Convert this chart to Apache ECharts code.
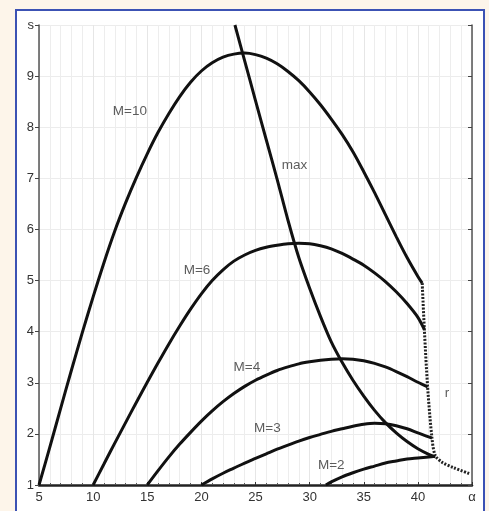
<!DOCTYPE html>
<html><head><meta charset="utf-8">
<script src="https://cdn.jsdelivr.net/npm/echarts@6/dist/echarts.min.js"></script>
<style>html,body{margin:0;padding:0;background:#fdf5ea;}#c{width:489px;height:511px;}</style>
</head><body><div id="c"></div>
<script>
const xTicks = [5,10,15,20,25,30,35,40,45];
const xTickLabels = ['5','10','15','20','25','30','35','40','α'];
const yTickLabels = ['1','2','3','4','5','6','7','8','9','s'];
const m10 = [[5,1],[6,1.74],[7,2.5],[8,3.25],[9,3.98],[10,4.68],[11,5.35],[12,5.97],[13,6.52],[14,7.02],[15,7.48],[16,7.9],[17,8.27],[18,8.6],[19,8.88],[20,9.1],[21,9.26],[22,9.37],[23,9.43],[24,9.45],[25,9.42],[26,9.35],[27,9.24],[28,9.09],[29,8.91],[30,8.69],[31,8.44],[32,8.16],[33,7.86],[34,7.52],[35,7.13],[36,6.72],[37,6.29],[38,5.86],[39,5.45],[40,5.08],[40.4,4.95]];
const m6 = [[10,1],[11,1.41],[12,1.82],[13,2.22],[14,2.62],[15,3.01],[16,3.39],[17,3.76],[18,4.11],[19,4.44],[20,4.74],[21,5.0],[22,5.21],[23,5.38],[24,5.5],[25,5.59],[26,5.65],[27,5.69],[28,5.72],[29,5.73],[30,5.72],[31,5.68],[32,5.62],[33,5.53],[34,5.42],[35,5.3],[36,5.15],[37,4.98],[38,4.78],[39,4.55],[40,4.28],[40.6,4.04]];
const m4 = [[15,1],[16,1.28],[17,1.55],[18,1.8],[19,2.03],[20,2.25],[21,2.45],[22,2.63],[23,2.79],[24,2.93],[25,3.05],[26,3.15],[27,3.24],[28,3.31],[29,3.37],[30,3.41],[31,3.44],[32,3.46],[33,3.47],[34,3.46],[35,3.43],[36,3.38],[37,3.31],[38,3.22],[39,3.12],[40,3.01],[40.9,2.92]];
const m3 = [[20,1],[21,1.12],[22,1.23],[23,1.33],[24,1.43],[25,1.52],[26,1.61],[27,1.7],[28,1.78],[29,1.86],[30,1.93],[31,1.99],[32,2.05],[33,2.1],[34,2.15],[35,2.19],[36,2.21],[37,2.2],[38,2.16],[39,2.1],[40,2.02],[41,1.94],[41.3,1.92]];
const m2 = [[31.5,1],[32,1.06],[33,1.16],[34,1.24],[35,1.31],[36,1.37],[37,1.43],[38,1.47],[39,1.51],[40,1.53],[41,1.55],[41.6,1.56]];
const maxCurve = [[23.1,10],[24,9.3],[25,8.52],[26,7.75],[27,6.98],[28,6.18],[29,5.45],[30,4.85],[31,4.3],[32,3.8],[33,3.4],[34,3.05],[35,2.74],[36,2.46],[37,2.22],[38,2.02],[39,1.85],[40,1.71],[41,1.6],[41.6,1.55]];
const rCurve = [[40.4,4.95],[40.6,4.04],[40.9,2.92],[41.3,1.92],[41.6,1.58],[42.2,1.45],[43.3,1.34],[44.8,1.22]];
const labels = [
  {name:'M=10', v:[13.4,8.32]},
  {name:'max', v:[28.6,7.25]},
  {name:'M=6', v:[19.6,5.2]},
  {name:'M=4', v:[24.2,3.3]},
  {name:'M=3', v:[26.1,2.1]},
  {name:'M=2', v:[32.0,1.38]},
  {name:'r', v:[42.7,2.8]}
];

const chart = echarts.init(document.getElementById('c'));
function curve(d){
  return {type:'line', data:d, smooth:0.3, showSymbol:false,
    lineStyle:{color:'#111', width:3}, silent:true, z:3};
}
chart.setOption({
  backgroundColor:'#fdf5ea',
  animation:false,
  graphic:[{type:'rect', shape:{x:16, y:10, width:468, height:510}, style:{fill:'#ffffff', stroke:'#3c52b4', lineWidth:2}, z:-10}],
  grid:{left:39, right:17, top:25, bottom:26},
  xAxis:{type:'value', min:5, max:45, interval:5,
    axisLine:{lineStyle:{color:'#222', width:2.5}},
    axisTick:{inside:true, length:3, lineStyle:{color:'#333'}},
    minorTick:{show:true, splitNumber:5, length:2, lineStyle:{color:'#555'}},
    minorSplitLine:{show:true, lineStyle:{color:'#ededed', width:1}},
    splitLine:{show:true, lineStyle:{color:'#e6e6e6', width:1}},
    axisLabel:{color:'#333', fontSize:13, fontFamily:'Liberation Sans', margin:6,
      formatter:function(v){const i=xTicks.indexOf(v);return i>=0?xTickLabels[i]:'';}}
  },
  yAxis:[{type:'value', min:1, max:10, interval:1,
    axisLine:{show:true, lineStyle:{color:'#555', width:1.5}},
    axisTick:{show:true, length:4, lineStyle:{color:'#444'}},
    splitLine:{show:true, lineStyle:{color:'#ececec', width:1}},
    axisLabel:{color:'#333', fontSize:13, fontFamily:'Liberation Sans', margin:5,
      formatter:function(v){return yTickLabels[Math.round(v)-1]||'';}}
  },{type:'value', min:1, max:10, interval:1, position:'right',
    axisLine:{show:true, lineStyle:{color:'#555', width:1.5}},
    axisTick:{show:true, inside:true, length:4, lineStyle:{color:'#444'}},
    splitLine:{show:false}, axisLabel:{show:false}
  }],
  series:[
    curve(m10), curve(m6), curve(m4), curve(m3), curve(m2), curve(maxCurve),
    {type:'line', data:rCurve, smooth:0.3, showSymbol:false, silent:true, z:2,
      lineStyle:{color:'#222', width:3, type:[2,1.5]}},
    {type:'scatter', symbolSize:0, silent:true, z:5,
      data:labels.map(l=>({name:l.name, value:l.v})),
      label:{show:true, position:'inside', formatter:'{b}', color:'#333', fontSize:13.5, fontFamily:'Liberation Sans'}}
  ]
});
</script></body></html>
